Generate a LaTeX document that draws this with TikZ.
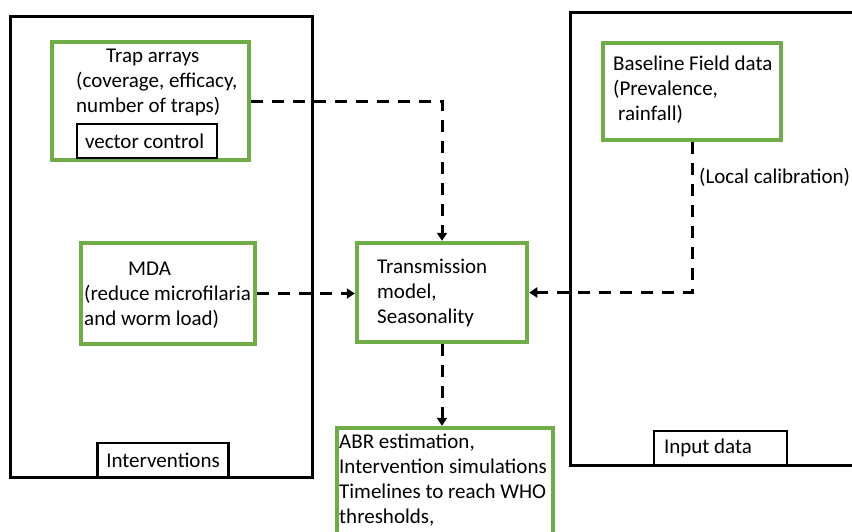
\documentclass[tikz,border=0pt]{standalone}
\usepackage{fontspec}
\setmainfont{Carlito}
\usetikzlibrary{arrows.meta,positioning}

\definecolor{boxgreen}{HTML}{70AD47}

\tikzset{
    frame/.style={draw, line width=3pt, inner sep=0pt},
    greenbox/.style={draw=boxgreen, line width=4.5pt, fill=white, inner sep=0pt},
    tagbox/.style={draw, line width=2.5pt, fill=white, minimum height=34pt, align=flush left},
    boxtext/.style={anchor=west, inner sep=0pt, align=left},
    flow/.style={line width=3pt, dash pattern=on 12pt off 9pt, -{Triangle[length=8pt,width=10pt]}}
}

\begin{document}
\begin{tikzpicture}[x=1pt, y=-1pt, font=\fontsize{21pt}{25pt}\selectfont]

    \useasboundingbox (0,0) rectangle (852,531);

    % Frames around the two groups
    \node[frame, minimum width=302pt, minimum height=461pt] (interv) at (161,246.5) {};
    \node[frame, minimum width=310pt, minimum height=453pt] (input) at (725,238.5) {};

    % Intervention boxes
    \node[greenbox, minimum width=197pt, minimum height=118pt] (trap) at (150.5,101) {};
    \node[boxtext] (traptext) at (76,82.5) {\hspace{30pt}Trap arrays\\(coverage, efficacy,\\number of traps)};
    \node[tagbox, text width=124pt, inner xsep=8pt, inner ysep=0pt] (vecctl) at (147,141) {vector control};

    \node[greenbox, minimum width=174pt, minimum height=101pt] (mda) at (168,293.5) {};
    \node[boxtext] (mdatext) at (84,295) {\hspace{44pt}MDA\\(reduce microfilaria\\and worm load)};

    % Model and output
    \node[greenbox, minimum width=170pt, minimum height=99pt] (trans) at (442,292.5) {};
    \node[boxtext] (transtext) at (377,293) {Transmission\\model,\\Seasonality};

    \node[greenbox, minimum width=216pt, minimum height=117pt] (out) at (445,486.5) {};
    \node[boxtext] (outtext) at (339,480) {ABR estimation,\\Intervention simulations\\Timelines to reach WHO\\thresholds,};

    % Input data box
    \node[greenbox, minimum width=178pt, minimum height=97pt] (base) at (692,91.5) {};
    \node[boxtext] (basetext) at (613,90) {Baseline Field data\\(Prevalence,\\\hspace{5pt}rainfall)};
    \node[boxtext] (calib) at (699,177) {(Local calibration)};

    % Frame labels
    \node[tagbox, inner xsep=9pt, inner ysep=0pt] (intervtag) at (163,460) {Interventions};
    \node[tagbox, text width=113pt, inner xsep=10pt, inner ysep=0pt] (inputtag) at (720.5,448) {Input data};

    % Connectors
    \draw[flow] (trap.east) -| (trans.north);
    \draw[flow] (mda.east) -- (mda.east -| trans.west);
    \draw[flow] (base.south) |- (trans.east);
    \draw[flow] (trans.south) -- (trans.south |- out.north);

\end{tikzpicture}
\end{document}
